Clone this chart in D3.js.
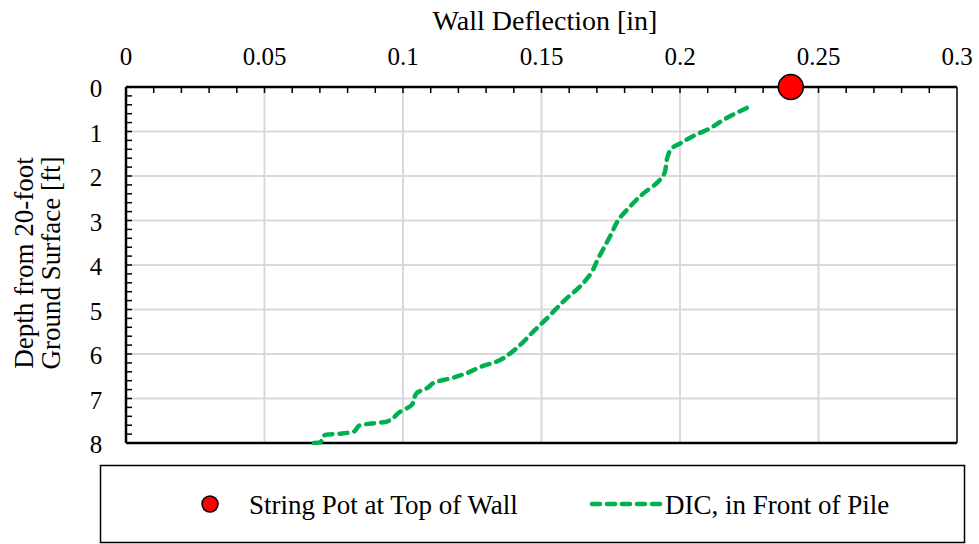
<!DOCTYPE html>
<html><head><meta charset="utf-8">
<script src="https://cdn.jsdelivr.net/npm/d3@7"></script>
<style>body{margin:0;background:#fff}svg{display:block}text{font-family:"Liberation Serif","Times New Roman",serif;fill:#000}</style>
</head><body><svg id="c" width="979" height="544"></svg>
<script>
const xTicks = [0,0.05,0.1,0.15,0.2,0.25,0.3];
const yTicks = [0,1,2,3,4,5,6,7,8];
const stringPot = [{x:0.24, y:0}];
const dicDeflection = [0.2241,0.2156,0.2108,0.2048,0.2000,0.1970,0.1952,0.1946,0.1916,0.1868,0.1819,0.1777,0.1753,0.1705,0.1675,0.1633,0.1591,0.1549,0.1513,0.1470,0.1429,0.1386,0.1338,0.1284,0.1230,0.1170,0.1122,0.1086,0.1049,0.1031,0.0989,0.0941,0.0887,0.0845,0.0821,0.0773,0.0718,0.0700,0.0664];
const dicDepth = [0.47,0.74,0.93,1.10,1.27,1.38,1.64,1.90,2.16,2.39,2.69,2.99,3.29,3.85,4.22,4.52,4.75,5.01,5.24,5.50,5.76,5.99,6.17,6.28,6.43,6.55,6.62,6.77,6.88,7.15,7.30,7.52,7.56,7.60,7.75,7.79,7.82,7.99,8.0];
const legendLabels = ["String Pot at Top of Wall","DIC, in Front of Pile"];

const svg = d3.select("#c");
const L=126,R=957,T=87,B=443;
const x = d3.scaleLinear().domain([0,0.3]).range([L,R]);
const y = d3.scaleLinear().domain([0,8]).range([T,B]);

// gridlines
svg.append("g").selectAll("line").data(xTicks.slice(1,-1)).join("line")
  .attr("x1",d=>x(d)).attr("x2",d=>x(d)).attr("y1",T).attr("y2",B)
  .attr("stroke","#d9d9d9").attr("stroke-width",2);
svg.append("g").selectAll("line").data(yTicks.slice(1,-1)).join("line")
  .attr("y1",d=>y(d)).attr("y2",d=>y(d)).attr("x1",L).attr("x2",R)
  .attr("stroke","#d9d9d9").attr("stroke-width",2);

// minor ticks
const xMinor = d3.range(1,30).map(i=>i*0.01);
svg.append("g").selectAll("line").data(xMinor).join("line")
  .attr("x1",d=>x(d)).attr("x2",d=>x(d)).attr("y1",T).attr("y2",T+6)
  .attr("stroke","#000").attr("stroke-width",1.5);
const yMinor = d3.range(1,40).map(i=>i*0.2);
svg.append("g").selectAll("line").data(yMinor).join("line")
  .attr("y1",d=>y(d)).attr("y2",d=>y(d)).attr("x1",L).attr("x2",L+6)
  .attr("stroke","#000").attr("stroke-width",1.5);

// frame
svg.append("line").attr("x1",L).attr("x2",R).attr("y1",T).attr("y2",T).attr("stroke","#000").attr("stroke-width",2.5);
svg.append("line").attr("x1",L).attr("x2",R).attr("y1",B).attr("y2",B).attr("stroke","#000").attr("stroke-width",2.5);
svg.append("line").attr("x1",L).attr("x2",L).attr("y1",T).attr("y2",B).attr("stroke","#000").attr("stroke-width",2.5);
svg.append("line").attr("x1",R).attr("x2",R).attr("y1",T).attr("y2",B).attr("stroke","#000").attr("stroke-width",1.5);

// tick labels
svg.append("g").selectAll("text").data(xTicks).join("text")
  .attr("x",d=>x(d)).attr("y",65).attr("text-anchor","middle")
  .attr("font-size",25).text(d=>d3.format("")(d));
svg.append("g").selectAll("text").data(yTicks).join("text")
  .attr("x",96).attr("y",d=>y(d)+10).attr("text-anchor","middle")
  .attr("font-size",25).text(d=>d);

// titles
svg.append("text").attr("x",545).attr("y",30).attr("text-anchor","middle").attr("font-size",28).text("Wall Deflection [in]");
const yt = svg.append("text").attr("transform","translate(0,263) rotate(-90)").attr("text-anchor","middle").attr("font-size",27);
yt.append("tspan").attr("x",0).attr("y",33).text("Depth from 20-foot");
yt.append("tspan").attr("x",0).attr("y",60).text("Ground Surface [ft]");

// DIC line
const dic = dicDeflection.map((d,i)=>({x:d,y:dicDepth[i]}));
svg.append("path").datum(dic)
  .attr("d",d3.line().x(d=>x(d.x)).y(d=>y(d.y)).curve(d3.curveMonotoneY))
  .attr("fill","none").attr("stroke","#00B050").attr("stroke-width",4.5)
  .attr("stroke-linecap","round").attr("stroke-dasharray","8,7");

// string pot
svg.append("g").selectAll("circle").data(stringPot).join("circle")
  .attr("cx",d=>x(d.x)).attr("cy",d=>y(d.y)).attr("r",12.5)
  .attr("fill","#ff0000").attr("stroke","#000").attr("stroke-width",1.5);

// legend
svg.append("rect").attr("x",100.5).attr("y",465.5).attr("width",864).attr("height",77)
  .attr("fill","#fff").attr("stroke","#000").attr("stroke-width",1.5);
svg.append("circle").attr("cx",210).attr("cy",504).attr("r",8).attr("fill","#ff0000").attr("stroke","#000").attr("stroke-width",1.5);
svg.append("text").attr("x",249).attr("y",514).attr("font-size",27).text(legendLabels[0]);
svg.append("line").attr("x1",592).attr("x2",660).attr("y1",504).attr("y2",504)
  .attr("stroke","#00B050").attr("stroke-width",4.5).attr("stroke-linecap","round").attr("stroke-dasharray","8,7");
svg.append("text").attr("x",665).attr("y",514).attr("font-size",27).text(legendLabels[1]);
</script></body></html>
